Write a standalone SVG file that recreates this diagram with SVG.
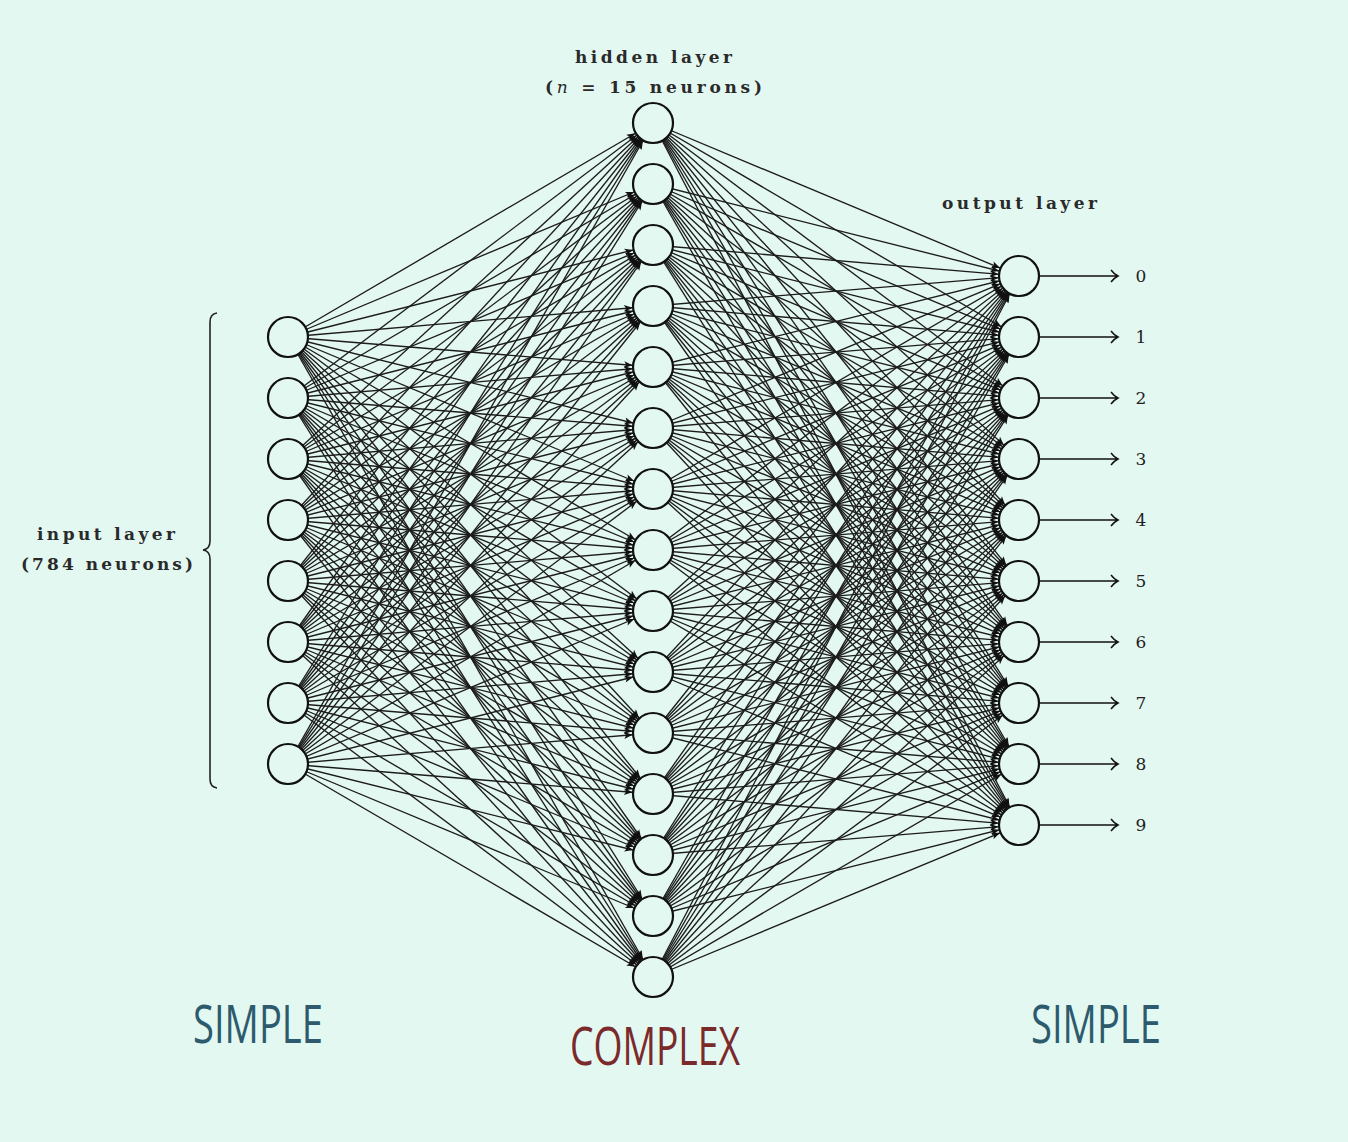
<svg xmlns="http://www.w3.org/2000/svg" width="1348" height="1142" viewBox="0 0 1348 1142">
<style>
.bg{fill:#e4f8f2}
.e line{stroke:#1c1c1c;stroke-width:1.35;marker-end:url(#a)}
.n circle{fill:#e4f8f2;stroke:#111;stroke-width:2.2}
.lbl{font-family:"DejaVu Serif","Liberation Serif",serif;font-weight:bold;font-size:17px;fill:#2a2a2a}
.dg{font-family:"DejaVu Serif","Liberation Serif",serif;font-size:17px;fill:#222;text-anchor:middle}
.big{font-family:"Open Sans","Noto Sans",sans-serif;font-size:53px}
.out{stroke:#111;stroke-width:1.5;fill:none}
</style>
<defs>
<marker id="a" markerUnits="userSpaceOnUse" markerWidth="12" markerHeight="8" refX="30.5" refY="0" orient="auto" style="overflow:visible"><path d="M10,0 L1.5,-3.5 L3.5,0 L1.5,3.5 Z" fill="#111"/></marker>
</defs>
<rect class="bg" x="0" y="0" width="1348" height="1142"/>
<g id="connectors" class="e">
<line x1="288" y1="337" x2="653" y2="123"/><line x1="288" y1="337" x2="653" y2="184"/><line x1="288" y1="337" x2="653" y2="245"/><line x1="288" y1="337" x2="653" y2="306"/><line x1="288" y1="337" x2="653" y2="367"/><line x1="288" y1="337" x2="653" y2="428"/><line x1="288" y1="337" x2="653" y2="489"/><line x1="288" y1="337" x2="653" y2="550"/><line x1="288" y1="337" x2="653" y2="611"/><line x1="288" y1="337" x2="653" y2="672"/><line x1="288" y1="337" x2="653" y2="733"/><line x1="288" y1="337" x2="653" y2="794"/><line x1="288" y1="337" x2="653" y2="855"/><line x1="288" y1="337" x2="653" y2="916"/><line x1="288" y1="337" x2="653" y2="977"/>
<line x1="288" y1="398" x2="653" y2="123"/><line x1="288" y1="398" x2="653" y2="184"/><line x1="288" y1="398" x2="653" y2="245"/><line x1="288" y1="398" x2="653" y2="306"/><line x1="288" y1="398" x2="653" y2="367"/><line x1="288" y1="398" x2="653" y2="428"/><line x1="288" y1="398" x2="653" y2="489"/><line x1="288" y1="398" x2="653" y2="550"/><line x1="288" y1="398" x2="653" y2="611"/><line x1="288" y1="398" x2="653" y2="672"/><line x1="288" y1="398" x2="653" y2="733"/><line x1="288" y1="398" x2="653" y2="794"/><line x1="288" y1="398" x2="653" y2="855"/><line x1="288" y1="398" x2="653" y2="916"/><line x1="288" y1="398" x2="653" y2="977"/>
<line x1="288" y1="459" x2="653" y2="123"/><line x1="288" y1="459" x2="653" y2="184"/><line x1="288" y1="459" x2="653" y2="245"/><line x1="288" y1="459" x2="653" y2="306"/><line x1="288" y1="459" x2="653" y2="367"/><line x1="288" y1="459" x2="653" y2="428"/><line x1="288" y1="459" x2="653" y2="489"/><line x1="288" y1="459" x2="653" y2="550"/><line x1="288" y1="459" x2="653" y2="611"/><line x1="288" y1="459" x2="653" y2="672"/><line x1="288" y1="459" x2="653" y2="733"/><line x1="288" y1="459" x2="653" y2="794"/><line x1="288" y1="459" x2="653" y2="855"/><line x1="288" y1="459" x2="653" y2="916"/><line x1="288" y1="459" x2="653" y2="977"/>
<line x1="288" y1="520" x2="653" y2="123"/><line x1="288" y1="520" x2="653" y2="184"/><line x1="288" y1="520" x2="653" y2="245"/><line x1="288" y1="520" x2="653" y2="306"/><line x1="288" y1="520" x2="653" y2="367"/><line x1="288" y1="520" x2="653" y2="428"/><line x1="288" y1="520" x2="653" y2="489"/><line x1="288" y1="520" x2="653" y2="550"/><line x1="288" y1="520" x2="653" y2="611"/><line x1="288" y1="520" x2="653" y2="672"/><line x1="288" y1="520" x2="653" y2="733"/><line x1="288" y1="520" x2="653" y2="794"/><line x1="288" y1="520" x2="653" y2="855"/><line x1="288" y1="520" x2="653" y2="916"/><line x1="288" y1="520" x2="653" y2="977"/>
<line x1="288" y1="581" x2="653" y2="123"/><line x1="288" y1="581" x2="653" y2="184"/><line x1="288" y1="581" x2="653" y2="245"/><line x1="288" y1="581" x2="653" y2="306"/><line x1="288" y1="581" x2="653" y2="367"/><line x1="288" y1="581" x2="653" y2="428"/><line x1="288" y1="581" x2="653" y2="489"/><line x1="288" y1="581" x2="653" y2="550"/><line x1="288" y1="581" x2="653" y2="611"/><line x1="288" y1="581" x2="653" y2="672"/><line x1="288" y1="581" x2="653" y2="733"/><line x1="288" y1="581" x2="653" y2="794"/><line x1="288" y1="581" x2="653" y2="855"/><line x1="288" y1="581" x2="653" y2="916"/><line x1="288" y1="581" x2="653" y2="977"/>
<line x1="288" y1="642" x2="653" y2="123"/><line x1="288" y1="642" x2="653" y2="184"/><line x1="288" y1="642" x2="653" y2="245"/><line x1="288" y1="642" x2="653" y2="306"/><line x1="288" y1="642" x2="653" y2="367"/><line x1="288" y1="642" x2="653" y2="428"/><line x1="288" y1="642" x2="653" y2="489"/><line x1="288" y1="642" x2="653" y2="550"/><line x1="288" y1="642" x2="653" y2="611"/><line x1="288" y1="642" x2="653" y2="672"/><line x1="288" y1="642" x2="653" y2="733"/><line x1="288" y1="642" x2="653" y2="794"/><line x1="288" y1="642" x2="653" y2="855"/><line x1="288" y1="642" x2="653" y2="916"/><line x1="288" y1="642" x2="653" y2="977"/>
<line x1="288" y1="703" x2="653" y2="123"/><line x1="288" y1="703" x2="653" y2="184"/><line x1="288" y1="703" x2="653" y2="245"/><line x1="288" y1="703" x2="653" y2="306"/><line x1="288" y1="703" x2="653" y2="367"/><line x1="288" y1="703" x2="653" y2="428"/><line x1="288" y1="703" x2="653" y2="489"/><line x1="288" y1="703" x2="653" y2="550"/><line x1="288" y1="703" x2="653" y2="611"/><line x1="288" y1="703" x2="653" y2="672"/><line x1="288" y1="703" x2="653" y2="733"/><line x1="288" y1="703" x2="653" y2="794"/><line x1="288" y1="703" x2="653" y2="855"/><line x1="288" y1="703" x2="653" y2="916"/><line x1="288" y1="703" x2="653" y2="977"/>
<line x1="288" y1="764" x2="653" y2="123"/><line x1="288" y1="764" x2="653" y2="184"/><line x1="288" y1="764" x2="653" y2="245"/><line x1="288" y1="764" x2="653" y2="306"/><line x1="288" y1="764" x2="653" y2="367"/><line x1="288" y1="764" x2="653" y2="428"/><line x1="288" y1="764" x2="653" y2="489"/><line x1="288" y1="764" x2="653" y2="550"/><line x1="288" y1="764" x2="653" y2="611"/><line x1="288" y1="764" x2="653" y2="672"/><line x1="288" y1="764" x2="653" y2="733"/><line x1="288" y1="764" x2="653" y2="794"/><line x1="288" y1="764" x2="653" y2="855"/><line x1="288" y1="764" x2="653" y2="916"/><line x1="288" y1="764" x2="653" y2="977"/>
<line x1="653" y1="123" x2="1019" y2="276"/><line x1="653" y1="123" x2="1019" y2="337"/><line x1="653" y1="123" x2="1019" y2="398"/><line x1="653" y1="123" x2="1019" y2="459"/><line x1="653" y1="123" x2="1019" y2="520"/><line x1="653" y1="123" x2="1019" y2="581"/><line x1="653" y1="123" x2="1019" y2="642"/><line x1="653" y1="123" x2="1019" y2="703"/><line x1="653" y1="123" x2="1019" y2="764"/><line x1="653" y1="123" x2="1019" y2="825"/>
<line x1="653" y1="184" x2="1019" y2="276"/><line x1="653" y1="184" x2="1019" y2="337"/><line x1="653" y1="184" x2="1019" y2="398"/><line x1="653" y1="184" x2="1019" y2="459"/><line x1="653" y1="184" x2="1019" y2="520"/><line x1="653" y1="184" x2="1019" y2="581"/><line x1="653" y1="184" x2="1019" y2="642"/><line x1="653" y1="184" x2="1019" y2="703"/><line x1="653" y1="184" x2="1019" y2="764"/><line x1="653" y1="184" x2="1019" y2="825"/>
<line x1="653" y1="245" x2="1019" y2="276"/><line x1="653" y1="245" x2="1019" y2="337"/><line x1="653" y1="245" x2="1019" y2="398"/><line x1="653" y1="245" x2="1019" y2="459"/><line x1="653" y1="245" x2="1019" y2="520"/><line x1="653" y1="245" x2="1019" y2="581"/><line x1="653" y1="245" x2="1019" y2="642"/><line x1="653" y1="245" x2="1019" y2="703"/><line x1="653" y1="245" x2="1019" y2="764"/><line x1="653" y1="245" x2="1019" y2="825"/>
<line x1="653" y1="306" x2="1019" y2="276"/><line x1="653" y1="306" x2="1019" y2="337"/><line x1="653" y1="306" x2="1019" y2="398"/><line x1="653" y1="306" x2="1019" y2="459"/><line x1="653" y1="306" x2="1019" y2="520"/><line x1="653" y1="306" x2="1019" y2="581"/><line x1="653" y1="306" x2="1019" y2="642"/><line x1="653" y1="306" x2="1019" y2="703"/><line x1="653" y1="306" x2="1019" y2="764"/><line x1="653" y1="306" x2="1019" y2="825"/>
<line x1="653" y1="367" x2="1019" y2="276"/><line x1="653" y1="367" x2="1019" y2="337"/><line x1="653" y1="367" x2="1019" y2="398"/><line x1="653" y1="367" x2="1019" y2="459"/><line x1="653" y1="367" x2="1019" y2="520"/><line x1="653" y1="367" x2="1019" y2="581"/><line x1="653" y1="367" x2="1019" y2="642"/><line x1="653" y1="367" x2="1019" y2="703"/><line x1="653" y1="367" x2="1019" y2="764"/><line x1="653" y1="367" x2="1019" y2="825"/>
<line x1="653" y1="428" x2="1019" y2="276"/><line x1="653" y1="428" x2="1019" y2="337"/><line x1="653" y1="428" x2="1019" y2="398"/><line x1="653" y1="428" x2="1019" y2="459"/><line x1="653" y1="428" x2="1019" y2="520"/><line x1="653" y1="428" x2="1019" y2="581"/><line x1="653" y1="428" x2="1019" y2="642"/><line x1="653" y1="428" x2="1019" y2="703"/><line x1="653" y1="428" x2="1019" y2="764"/><line x1="653" y1="428" x2="1019" y2="825"/>
<line x1="653" y1="489" x2="1019" y2="276"/><line x1="653" y1="489" x2="1019" y2="337"/><line x1="653" y1="489" x2="1019" y2="398"/><line x1="653" y1="489" x2="1019" y2="459"/><line x1="653" y1="489" x2="1019" y2="520"/><line x1="653" y1="489" x2="1019" y2="581"/><line x1="653" y1="489" x2="1019" y2="642"/><line x1="653" y1="489" x2="1019" y2="703"/><line x1="653" y1="489" x2="1019" y2="764"/><line x1="653" y1="489" x2="1019" y2="825"/>
<line x1="653" y1="550" x2="1019" y2="276"/><line x1="653" y1="550" x2="1019" y2="337"/><line x1="653" y1="550" x2="1019" y2="398"/><line x1="653" y1="550" x2="1019" y2="459"/><line x1="653" y1="550" x2="1019" y2="520"/><line x1="653" y1="550" x2="1019" y2="581"/><line x1="653" y1="550" x2="1019" y2="642"/><line x1="653" y1="550" x2="1019" y2="703"/><line x1="653" y1="550" x2="1019" y2="764"/><line x1="653" y1="550" x2="1019" y2="825"/>
<line x1="653" y1="611" x2="1019" y2="276"/><line x1="653" y1="611" x2="1019" y2="337"/><line x1="653" y1="611" x2="1019" y2="398"/><line x1="653" y1="611" x2="1019" y2="459"/><line x1="653" y1="611" x2="1019" y2="520"/><line x1="653" y1="611" x2="1019" y2="581"/><line x1="653" y1="611" x2="1019" y2="642"/><line x1="653" y1="611" x2="1019" y2="703"/><line x1="653" y1="611" x2="1019" y2="764"/><line x1="653" y1="611" x2="1019" y2="825"/>
<line x1="653" y1="672" x2="1019" y2="276"/><line x1="653" y1="672" x2="1019" y2="337"/><line x1="653" y1="672" x2="1019" y2="398"/><line x1="653" y1="672" x2="1019" y2="459"/><line x1="653" y1="672" x2="1019" y2="520"/><line x1="653" y1="672" x2="1019" y2="581"/><line x1="653" y1="672" x2="1019" y2="642"/><line x1="653" y1="672" x2="1019" y2="703"/><line x1="653" y1="672" x2="1019" y2="764"/><line x1="653" y1="672" x2="1019" y2="825"/>
<line x1="653" y1="733" x2="1019" y2="276"/><line x1="653" y1="733" x2="1019" y2="337"/><line x1="653" y1="733" x2="1019" y2="398"/><line x1="653" y1="733" x2="1019" y2="459"/><line x1="653" y1="733" x2="1019" y2="520"/><line x1="653" y1="733" x2="1019" y2="581"/><line x1="653" y1="733" x2="1019" y2="642"/><line x1="653" y1="733" x2="1019" y2="703"/><line x1="653" y1="733" x2="1019" y2="764"/><line x1="653" y1="733" x2="1019" y2="825"/>
<line x1="653" y1="794" x2="1019" y2="276"/><line x1="653" y1="794" x2="1019" y2="337"/><line x1="653" y1="794" x2="1019" y2="398"/><line x1="653" y1="794" x2="1019" y2="459"/><line x1="653" y1="794" x2="1019" y2="520"/><line x1="653" y1="794" x2="1019" y2="581"/><line x1="653" y1="794" x2="1019" y2="642"/><line x1="653" y1="794" x2="1019" y2="703"/><line x1="653" y1="794" x2="1019" y2="764"/><line x1="653" y1="794" x2="1019" y2="825"/>
<line x1="653" y1="855" x2="1019" y2="276"/><line x1="653" y1="855" x2="1019" y2="337"/><line x1="653" y1="855" x2="1019" y2="398"/><line x1="653" y1="855" x2="1019" y2="459"/><line x1="653" y1="855" x2="1019" y2="520"/><line x1="653" y1="855" x2="1019" y2="581"/><line x1="653" y1="855" x2="1019" y2="642"/><line x1="653" y1="855" x2="1019" y2="703"/><line x1="653" y1="855" x2="1019" y2="764"/><line x1="653" y1="855" x2="1019" y2="825"/>
<line x1="653" y1="916" x2="1019" y2="276"/><line x1="653" y1="916" x2="1019" y2="337"/><line x1="653" y1="916" x2="1019" y2="398"/><line x1="653" y1="916" x2="1019" y2="459"/><line x1="653" y1="916" x2="1019" y2="520"/><line x1="653" y1="916" x2="1019" y2="581"/><line x1="653" y1="916" x2="1019" y2="642"/><line x1="653" y1="916" x2="1019" y2="703"/><line x1="653" y1="916" x2="1019" y2="764"/><line x1="653" y1="916" x2="1019" y2="825"/>
<line x1="653" y1="977" x2="1019" y2="276"/><line x1="653" y1="977" x2="1019" y2="337"/><line x1="653" y1="977" x2="1019" y2="398"/><line x1="653" y1="977" x2="1019" y2="459"/><line x1="653" y1="977" x2="1019" y2="520"/><line x1="653" y1="977" x2="1019" y2="581"/><line x1="653" y1="977" x2="1019" y2="642"/><line x1="653" y1="977" x2="1019" y2="703"/><line x1="653" y1="977" x2="1019" y2="764"/><line x1="653" y1="977" x2="1019" y2="825"/>
</g>
<g id="outputs" class="out">
<path d="M1039,276H1117M1111,270Q1114,274 1118,276Q1114,278 1111,282"/>
<path d="M1039,337H1117M1111,331Q1114,335 1118,337Q1114,339 1111,343"/>
<path d="M1039,398H1117M1111,392Q1114,396 1118,398Q1114,400 1111,404"/>
<path d="M1039,459H1117M1111,453Q1114,457 1118,459Q1114,461 1111,465"/>
<path d="M1039,520H1117M1111,514Q1114,518 1118,520Q1114,522 1111,526"/>
<path d="M1039,581H1117M1111,575Q1114,579 1118,581Q1114,583 1111,587"/>
<path d="M1039,642H1117M1111,636Q1114,640 1118,642Q1114,644 1111,648"/>
<path d="M1039,703H1117M1111,697Q1114,701 1118,703Q1114,705 1111,709"/>
<path d="M1039,764H1117M1111,758Q1114,762 1118,764Q1114,766 1111,770"/>
<path d="M1039,825H1117M1111,819Q1114,823 1118,825Q1114,827 1111,831"/>
</g>
<g id="input-layer" class="n">
<circle cx="288" cy="337" r="20"/><circle cx="288" cy="398" r="20"/><circle cx="288" cy="459" r="20"/><circle cx="288" cy="520" r="20"/><circle cx="288" cy="581" r="20"/><circle cx="288" cy="642" r="20"/><circle cx="288" cy="703" r="20"/><circle cx="288" cy="764" r="20"/>
</g>
<g id="hidden-layer" class="n">
<circle cx="653" cy="123" r="20"/><circle cx="653" cy="184" r="20"/><circle cx="653" cy="245" r="20"/><circle cx="653" cy="306" r="20"/><circle cx="653" cy="367" r="20"/><circle cx="653" cy="428" r="20"/><circle cx="653" cy="489" r="20"/><circle cx="653" cy="550" r="20"/><circle cx="653" cy="611" r="20"/><circle cx="653" cy="672" r="20"/><circle cx="653" cy="733" r="20"/><circle cx="653" cy="794" r="20"/><circle cx="653" cy="855" r="20"/><circle cx="653" cy="916" r="20"/><circle cx="653" cy="977" r="20"/>
</g>
<g id="output-layer" class="n">
<circle cx="1019" cy="276" r="20"/><circle cx="1019" cy="337" r="20"/><circle cx="1019" cy="398" r="20"/><circle cx="1019" cy="459" r="20"/><circle cx="1019" cy="520" r="20"/><circle cx="1019" cy="581" r="20"/><circle cx="1019" cy="642" r="20"/><circle cx="1019" cy="703" r="20"/><circle cx="1019" cy="764" r="20"/><circle cx="1019" cy="825" r="20"/>
</g>
<g id="digits" class="dg">
<text x="1141" y="282">0</text><text x="1141" y="343">1</text><text x="1141" y="404">2</text><text x="1141" y="465">3</text><text x="1141" y="526">4</text><text x="1141" y="587">5</text><text x="1141" y="648">6</text><text x="1141" y="709">7</text><text x="1141" y="770">8</text><text x="1141" y="831">9</text>
</g>
<g id="brace">
<path d="M217,313 Q210,314 210,322 L210,541 Q210,549 203,550 Q210,551 210,559 L210,779 Q210,787 217,788" fill="none" stroke="#222" stroke-width="1.6"/>
</g>
<g id="labels" class="lbl">
<text x="575" y="63" textLength="157">hidden layer</text>
<text x="545" y="93" textLength="217">(<tspan font-style="italic" font-weight="normal">n</tspan> = 15 neurons)</text>
<text x="37" y="540" textLength="138">input layer</text>
<text x="21" y="570" textLength="172">(784 neurons)</text>
<text x="942" y="209" textLength="155">output layer</text>
</g>
<g id="captions" class="big">
<text x="193" y="1043" textLength="130" lengthAdjust="spacingAndGlyphs" fill="#2d5b6d">SIMPLE</text>
<text x="1031" y="1043" textLength="130" lengthAdjust="spacingAndGlyphs" fill="#2d5b6d">SIMPLE</text>
<text x="570" y="1065" textLength="170" lengthAdjust="spacingAndGlyphs" fill="#7a2a2a">COMPLEX</text>
</g>
</svg>
